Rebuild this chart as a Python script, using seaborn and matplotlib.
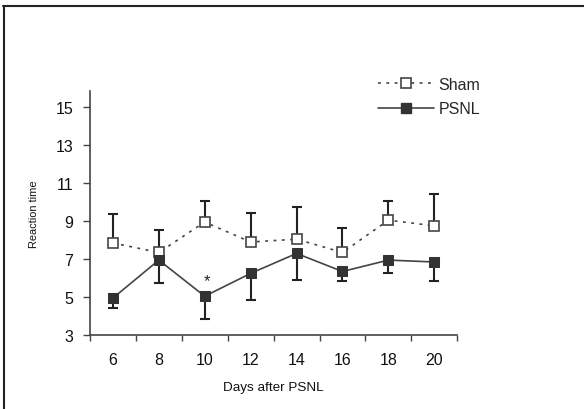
import matplotlib
matplotlib.use("Agg")
import matplotlib.pyplot as plt
import seaborn as sns
import pandas as pd
import numpy as np
from matplotlib.lines import Line2D

days = ["6", "8", "10", "12", "14", "16", "18", "20"]
sham_mean = [7.85, 7.35, 8.95, 7.9, 8.05, 7.35, 9.05, 8.75]
sham_err = [1.5, 1.2, 1.1, 1.5, 1.7, 1.3, 1.0, 1.7]
psnl_mean = [4.95, 6.95, 5.05, 6.25, 7.3, 6.35, 6.95, 6.85]
psnl_err = [0.5, 1.2, 1.2, 1.4, 1.4, 0.5, 0.7, 1.0]

sns.set_theme(style="white")
plt.rcParams['font.family'] = ['Liberation Sans', 'DejaVu Sans']

pos = np.arange(len(days))
df = pd.DataFrame({
    "pos": np.concatenate([pos, pos]),
    "value": sham_mean + psnl_mean,
    "group": ["Sham"] * len(days) + ["PSNL"] * len(days),
})

fig = plt.figure(figsize=(5.84, 4.10), dpi=100)
ax = fig.add_axes([0.154, 0.180, 0.629, 0.596])

dark = "#333333"
line_c = "#444444"

# error bars: sham upward only, psnl downward only
ax.errorbar(pos, sham_mean, yerr=[np.zeros(len(days)), sham_err], fmt="none",
            ecolor="#222222", elinewidth=1.5, capsize=3.6, capthick=1.5, zorder=2)
ax.errorbar(pos, psnl_mean, yerr=[psnl_err, np.zeros(len(days))], fmt="none",
            ecolor="#222222", elinewidth=1.5, capsize=3.6, capthick=1.5, zorder=2)

sham_df = df[df.group == "Sham"]
psnl_df = df[df.group == "PSNL"]
sns.lineplot(data=sham_df, x="pos", y="value", ax=ax, color=line_c, lw=1.2,
             linestyle=(0, (1.7, 3.3)), marker="s", markersize=7,
             markerfacecolor="white", markeredgecolor="#444444",
             markeredgewidth=1.2, zorder=3)
sns.lineplot(data=psnl_df, x="pos", y="value", ax=ax, color=line_c, lw=1.2,
             marker="s", markersize=7.8, markerfacecolor=dark,
             markeredgecolor=dark, zorder=4)

ax.text(2.05, 5.85, "*", ha="center", va="center", fontsize=12, color="#222222")

ax.set_xlim(-0.5, 7.5)
ax.set_ylim(3, 15.85)
ax.set_yticks([3, 5, 7, 9, 11, 13, 15])
ax.set_xticks(pos)
ax.set_xticklabels(days)
ax.set_xticks(np.arange(-0.5, 8, 1), minor=True)
ax.tick_params(axis="x", which="major", length=0, pad=12, labelsize=11.5,
               labelcolor="#111111")
ax.tick_params(axis="x", which="minor", length=4, width=1, direction="out",
               color="#444444", bottom=True)
ax.tick_params(axis="y", length=5, width=1, direction="out", color="#444444",
               left=True, labelsize=11.5, pad=7, labelcolor="#111111")
ax.set_xlabel("Days after PSNL", fontsize=9.7, labelpad=10, color="#111111")
ax.set_ylabel("Reaction time", fontsize=7.9, labelpad=12, color="#111111")
for s in ["top", "right"]:
    ax.spines[s].set_visible(False)
for s in ["left", "bottom"]:
    ax.spines[s].set_color("#444444")
    ax.spines[s].set_linewidth(1.2)

handles = [
    Line2D([], [], color=line_c, lw=1.2, linestyle=(0, (1.7, 3.3)), marker="s",
           markersize=7, markerfacecolor="white", markeredgecolor="#444444",
           markeredgewidth=1.2),
    Line2D([], [], color=line_c, lw=1.2, marker="s", markersize=7.8,
           markerfacecolor=dark, markeredgecolor=dark),
]
fig.legend(handles, ["Sham", "PSNL"], loc="upper left",
           bbox_to_anchor=(0.647, 0.81), frameon=False, fontsize=11.5,
           handlelength=3.5, handletextpad=0.3, labelspacing=0.6,
           borderpad=0, borderaxespad=0)

# page frame lines (top and left)
fig.add_artist(Line2D([0.005, 1.0], [0.984, 0.984], color="#222222", lw=1.5,
                      transform=fig.transFigure))
fig.add_artist(Line2D([0.006, 0.006], [0.0, 0.984], color="#222222", lw=1.5,
                      transform=fig.transFigure))

fig.savefig("out.png", dpi=100)
plt.close(fig)
